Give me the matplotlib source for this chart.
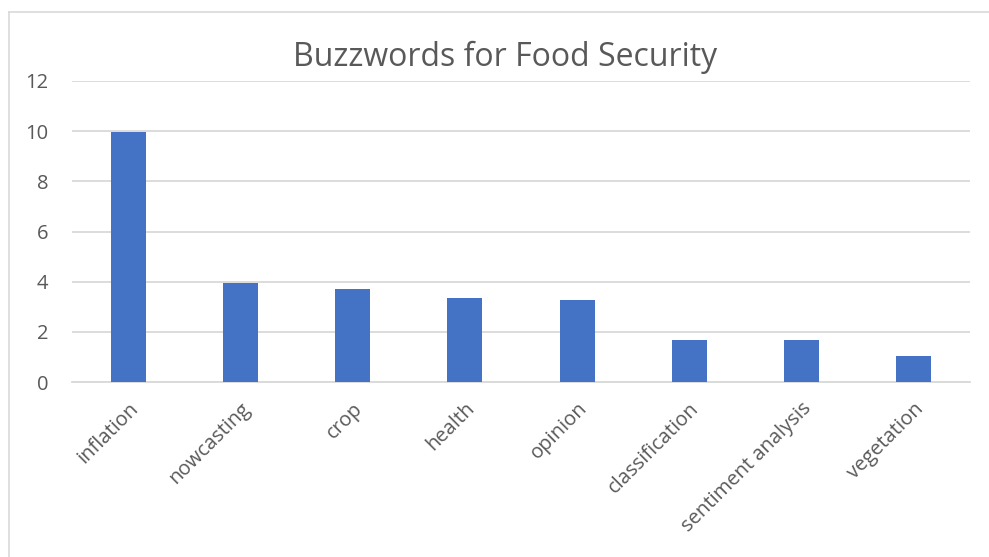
import matplotlib.pyplot as plt
from matplotlib.lines import Line2D
import numpy as np

# donnees
mots = ['inflation', 'nowcasting', 'crop', 'health', 'opinion',
        'classification', 'sentiment analysis', 'vegetation']
valeurs = [9.95, 3.96, 3.70, 3.35, 3.25, 1.67, 1.67, 1.05]
graduations = [0, 2, 4, 6, 8, 10, 12]

gris_texte = '#595959'
gris_grille = '#D9D9D9'
bleu = '#4472C4'

plt.rcParams['font.family'] = ['Open Sans', 'DejaVu Sans']

W, H = 989, 557
fig = plt.figure(figsize=(9.89, 5.57), dpi=100)
ax = fig.add_axes([72 / W, 1 - 382 / H, (970 - 72) / W, (382 - 81) / H])

x = np.arange(len(mots))
ax.bar(x, valeurs, width=0.31, color=bleu, zorder=3)

ax.set_xlim(-0.5, len(mots) - 0.5)
ax.set_ylim(0, 12)
ax.set_yticks(graduations)
ax.set_yticklabels([str(g) for g in graduations])
ax.yaxis.grid(True, color=gris_grille, linewidth=1.3, zorder=0)
ax.set_axisbelow(True)

for s in ['top', 'right', 'left']:
    ax.spines[s].set_visible(False)
ax.spines['bottom'].set_color(gris_grille)
ax.spines['bottom'].set_linewidth(1.3)

ax.tick_params(axis='both', length=0, colors=gris_texte, labelsize=14.5)
ax.tick_params(axis='y', pad=17)
ax.set_xticks(x)
ax.set_xticklabels(mots, rotation=45, ha='right', rotation_mode='anchor')
ax.tick_params(axis='x', pad=12)

fig.text(505 / W, 1 - 66 / H, 'Buzzwords for Food Security',
         ha='center', va='baseline', fontsize=23, color=gris_texte)

# cadre du graphique (haut et gauche seulement, le reste est coupe)
fig.add_artist(Line2D([8.5 / W, 1], [1 - 11.5 / H, 1 - 11.5 / H], color=gris_grille, linewidth=1.2))
fig.add_artist(Line2D([8.5 / W, 8.5 / W], [0, 1 - 11.5 / H], color=gris_grille, linewidth=1.2))

fig.savefig('out.png', dpi=100)
